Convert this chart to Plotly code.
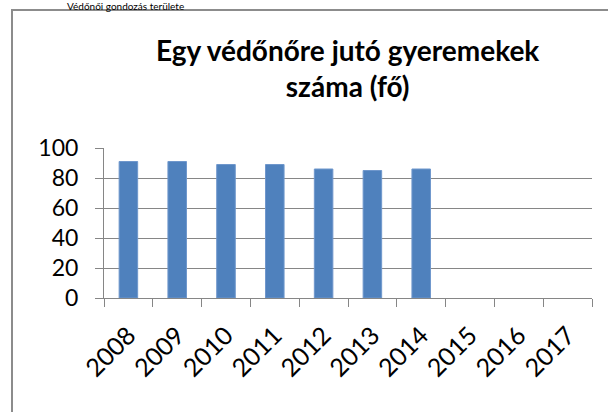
import plotly.graph_objects as go

# Number of children per health visitor (fő), by year
years = ["2008", "2009", "2010", "2011", "2012", "2013", "2014", "2015", "2016", "2017"]
children_per_nurse = [91, 91, 89, 89, 86, 85, 86, None, None, None]
y_ticks = [0, 20, 40, 60, 80, 100]

title_text = "Egy védőnőre jutó gyeremekek<br>száma (fő)"
header_text = "Védőnői gondozás területe"

W, H = 608, 412
L, R, T, B = 104, 16, 148, 114
PW, PH = W - L - R, H - T - B


def px_x(x):
    return (x - L) / PW


def px_y(y):
    return (H - B - y) / PH


FONT = "Lato"
GRID = "#868686"

fig = go.Figure(
    go.Bar(
        x=years,
        y=children_per_nurse,
        marker=dict(color="#4F81BD", line=dict(color="#6f97cc", width=1)),
        hoverinfo="x+y",
    )
)

fig.update_layout(
    width=W,
    height=H,
    margin=dict(l=L, r=R, t=T, b=B, pad=0),
    paper_bgcolor="white",
    plot_bgcolor="white",
    bargap=0.62,
    showlegend=False,
    font=dict(family=FONT, color="#000000"),
    xaxis=dict(
        type="category",
        categoryorder="array",
        categoryarray=years,
        tickangle=-45,
        tickson="boundaries",
        ticks="outside",
        ticklen=8,
        tickcolor=GRID,
        showline=True,
        linecolor=GRID,
        linewidth=1,
        showgrid=False,
        ticklabelstandoff=12,
        tickfont=dict(family=FONT, size=25, color="#000000"),
        fixedrange=True,
    ),
    yaxis=dict(
        range=[0, 100],
        tickvals=y_ticks,
        ticks="outside",
        ticklen=8,
        tickcolor=GRID,
        showline=True,
        linecolor=GRID,
        linewidth=1,
        showgrid=True,
        gridcolor=GRID,
        gridwidth=1.3,
        zeroline=False,
        ticklabelstandoff=12,
        tickfont=dict(family=FONT, size=23, color="#000000"),
        fixedrange=True,
    ),
    shapes=[
        # chart frame
        dict(
            type="rect",
            xref="paper",
            yref="paper",
            x0=px_x(12),
            x1=px_x(640),
            y0=px_y(440),
            y1=px_y(10),
            line=dict(color="#8c8c8c", width=2),
            fillcolor="rgba(0,0,0,0)",
            layer="below",
        )
    ],
    annotations=[
        dict(
            text=title_text,
            xref="paper",
            yref="paper",
            x=px_x(347),
            y=px_y(68),
            xanchor="center",
            yanchor="middle",
            showarrow=False,
            font=dict(family=FONT, size=28, color="#000000", weight="bold"),
        ),
        dict(
            text=header_text,
            xref="paper",
            yref="paper",
            x=px_x(186),
            y=px_y(-2),
            xanchor="right",
            yanchor="top",
            showarrow=False,
            font=dict(family=FONT, size=10, color="#000000"),
        ),
    ],
)

fig.write_html("out.html")
